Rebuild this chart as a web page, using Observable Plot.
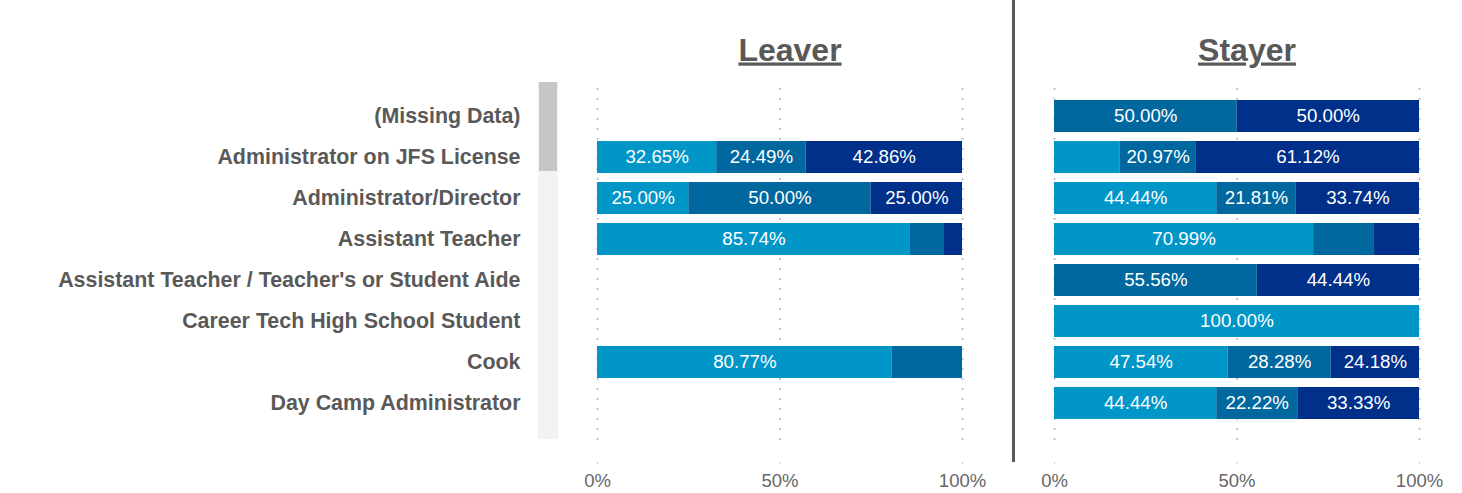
<!DOCTYPE html>
<html>
<head>
<meta charset="utf-8">
<script src="https://cdn.jsdelivr.net/npm/d3@7"></script>
<script src="https://cdn.jsdelivr.net/npm/@observablehq/plot@0.6"></script>
<style>
  html, body { margin: 0; padding: 0; background: #fff; }
  #wrap { position: relative; width: 1462px; height: 493px; overflow: hidden; }
  #wrap svg [aria-label="fx-axis tick label"] text { text-decoration: underline; }
  .divider { position: absolute; left: 1012px; top: 0; width: 3px; height: 462px; background: #595959; }
  .track { position: absolute; left: 538px; top: 82px; width: 20px; height: 357px; background: #f2f2f2; }
  .thumb { position: absolute; left: 539px; top: 82px; width: 18px; height: 89px; background: #c6c6c6; }
</style>
</head>
<body>
<div id="wrap">
  <div class="track"></div>
  <div class="thumb"></div>
  <div class="divider"></div>
</div>
<script>
const groups = ["Leaver", "Stayer"];
const categories = [
  "(Missing Data)",
  "Administrator on JFS License",
  "Administrator/Director",
  "Assistant Teacher",
  "Assistant Teacher / Teacher's or Student Aide",
  "Career Tech High School Student",
  "Cook",
  "Day Camp Administrator"
];
const levels = ["Level 1", "Level 2", "Level 3"];
const levelColors = ["#0096c8", "#00689f", "#00308a"];
const xTicks = [0, 50, 100];

const leaverLevel1 = [null, 32.65, 25.00, 85.74, null, null, 80.77, null];
const leaverLevel2 = [null, 24.49, 50.00, 9.33, null, null, 19.23, null];
const leaverLevel3 = [null, 42.86, 25.00, 4.93, null, null, 0, null];
const stayerLevel1 = [0, 17.91, 44.44, 70.99, 0, 100.00, 47.54, 44.44];
const stayerLevel2 = [50.00, 20.97, 21.81, 16.67, 55.56, 0, 28.28, 22.22];
const stayerLevel3 = [50.00, 61.12, 33.74, 12.34, 44.44, 0, 24.18, 33.33];

const series = {
  Leaver: [leaverLevel1, leaverLevel2, leaverLevel3],
  Stayer: [stayerLevel1, stayerLevel2, stayerLevel3]
};
const rows = [];
for (const g of groups) {
  categories.forEach((c, i) => {
    series[g].forEach((arr, k) => {
      if (arr[i] != null) rows.push({group: g, cat: c, level: levels[k], value: arr[i]});
    });
  });
}

const font = "'Liberation Sans', Arial, Helvetica, sans-serif";
const gray = "#595959";

const chart = Plot.plot({
  width: 1462,
  height: 493,
  marginTop: 88,
  marginBottom: 31,
  marginLeft: 597,
  marginRight: 42,
  style: {fontFamily: font, background: "transparent", overflow: "visible"},
  fx: {domain: groups, paddingInner: 0.201, paddingOuter: 0},
  x: {domain: [0, 100]},
  y: {domain: categories, range: [100, 419], paddingInner: 0.22, paddingOuter: 0},
  color: {domain: levels, range: levelColors},
  marks: [
    Plot.gridX(xTicks, {stroke: "#c8c8c8", strokeOpacity: 1, strokeWidth: 2, strokeDasharray: "2,8", insetBottom: 22}),
    Plot.barX(rows, {x: "value", y: "cat", fx: "group", z: "level", fill: "level", order: levels, inset: 0}),
    Plot.text(rows, Plot.stackX({
      x: "value", y: "cat", fx: "group", z: "level", order: levels,
      text: d => d.value >= 20 ? d.value.toFixed(2) + "%" : null,
      fill: "white", fontSize: 18.7
    })),
    Plot.axisY({anchor: "left", tickSize: 0, tickPadding: 77, fontSize: 21.4, fontWeight: "bold", fill: gray, label: null}),
    Plot.axisX({anchor: "bottom", ticks: xTicks, tickFormat: d => d + "%", tickSize: 2, stroke: "#cccccc", tickPadding: 9, fontSize: 18.5, fill: "#666666", label: null}),
    Plot.axisFx({anchor: "top", tickSize: 0, tickPadding: 28, fontSize: 32, fontWeight: "bold", fill: gray, dx: 10, label: null})
  ]
});
document.getElementById("wrap").prepend(chart);
chart.style.position = "absolute";
chart.style.left = "0";
chart.style.top = "0";
</script>
</body>
</html>
